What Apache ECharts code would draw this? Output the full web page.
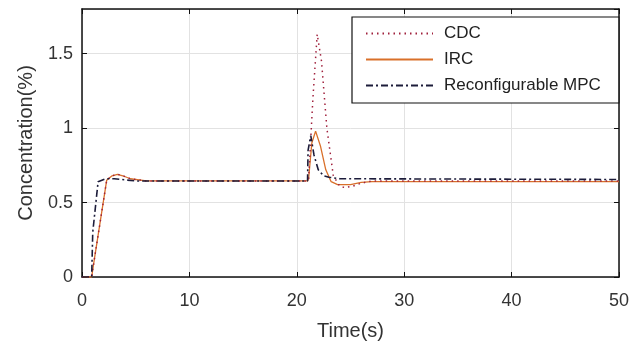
<!DOCTYPE html>
<html>
<head>
<meta charset="utf-8">
<script src="https://cdn.jsdelivr.net/npm/echarts@6/dist/echarts.min.js"></script>
<style>html,body{margin:0;padding:0;background:#fff}#c{width:632px;height:349px}</style>
</head>
<body>
<div id="c"></div>
<script>
// Data
var cdcT = [0, 0.9, 1.0, 2.3, 2.8, 3.3, 3.8, 4.5, 6, 21.0, 21.1, 21.5, 21.9, 22.3, 22.8, 23.4, 24.0, 24.5, 25.2, 26, 27, 50];
var cdcV = [0, 0, 0.05, 0.65, 0.68, 0.69, 0.68, 0.66, 0.645, 0.645, 0.66, 1.2, 1.63, 1.45, 1.0, 0.68, 0.61, 0.6, 0.61, 0.63, 0.645, 0.645];
var ircT = [0, 0.9, 1.0, 2.3, 2.8, 3.3, 3.8, 4.5, 6, 21.0, 21.1, 21.4, 21.75, 22.2, 22.7, 23.2, 23.8, 25, 26, 27, 50];
var ircV = [0, 0, 0.05, 0.65, 0.68, 0.69, 0.68, 0.66, 0.645, 0.645, 0.66, 0.9, 0.98, 0.88, 0.72, 0.64, 0.62, 0.62, 0.635, 0.64, 0.64];
var mpcT = [0, 0.9, 1.0, 1.5, 2.2, 3, 5, 21.0, 21.05, 21.3, 21.6, 22, 22.5, 23, 24, 50];
var mpcV = [0, 0, 0.3, 0.64, 0.66, 0.66, 0.645, 0.645, 0.85, 0.95, 0.82, 0.72, 0.68, 0.67, 0.66, 0.655];
var seriesNames = ['CDC', 'IRC', 'Reconfigurable MPC'];
var xTicks = [0, 10, 20, 30, 40, 50];
var yTicks = [0, 0.5, 1, 1.5];

function pairs(t, v) { return t.map(function (x, i) { return [x, v[i]]; }); }

var chart = echarts.init(document.getElementById('c'));
var font = 'Liberation Sans, Arial, sans-serif';
var baseAxis = {
  min: 0,
  axisLine: { show: true, onZero: false, lineStyle: { color: '#111', width: 1.5 } },
  axisTick: { show: true, inside: true, length: 5, lineStyle: { color: '#111' } },
  splitLine: { show: false },
  axisLabel: { show: false }
};
chart.setOption({
  animation: false,
  backgroundColor: '#fff',
  grid: { left: 82, right: 10, top: 9, bottom: 72 },
  legend: {
    orient: 'vertical',
    left: 352, top: 17,
    padding: [8, 18, 9, 13],
    itemGap: 9,
    itemWidth: 67, itemHeight: 17,
    backgroundColor: '#fff',
    borderColor: '#111', borderWidth: 1.2,
    itemStyle: { opacity: 0 },
    textStyle: { fontFamily: font, fontSize: 17, color: '#222', padding: [0, 0, 0, 6] },
    data: seriesNames
  },
  xAxis: [
    Object.assign({}, baseAxis, {
      type: 'value', max: 50, interval: 10, position: 'bottom',
      name: 'Time(s)', nameLocation: 'middle', nameGap: 44,
      nameTextStyle: { fontFamily: font, fontSize: 20, color: '#333' },
      splitLine: { show: true, lineStyle: { color: '#e2e2e2' } },
      axisLabel: { show: true, margin: 15, fontFamily: font, fontSize: 18, color: '#333' }
    }),
    Object.assign({}, baseAxis, { type: 'value', max: 50, interval: 10, position: 'top' })
  ],
  yAxis: [
    Object.assign({}, baseAxis, {
      type: 'value', max: 1.8, interval: 0.5, position: 'left',
      name: 'Concentration(%)', nameLocation: 'middle', nameGap: 46, nameRotate: 90,
      nameTextStyle: { fontFamily: font, fontSize: 20, color: '#333' },
      splitLine: { show: true, lineStyle: { color: '#e2e2e2' } },
      axisLabel: { show: true, margin: 9, fontFamily: font, fontSize: 18, color: '#333', showMaxLabel: false }
    }),
    Object.assign({}, baseAxis, { type: 'value', max: 1.8, interval: 0.5, position: 'right' })
  ],
  series: [
    { name: seriesNames[0], type: 'line', symbol: 'none', z: 3,
      data: pairs(cdcT, cdcV),
      lineStyle: { color: '#a0203c', width: 1.5, type: [1.5, 4] },
      itemStyle: { color: '#a0203c' } },
    { name: seriesNames[1], type: 'line', symbol: 'none', z: 2,
      data: pairs(ircT, ircV),
      lineStyle: { color: '#d9702a', width: 1.3 },
      itemStyle: { color: '#d9702a' } },
    { name: seriesNames[2], type: 'line', symbol: 'none', z: 4,
      data: pairs(mpcT, mpcV),
      lineStyle: { color: '#1c1c3a', width: 1.6, type: [7, 3, 2, 3] },
      itemStyle: { color: '#1c1c3a' } }
  ]
});
</script>
</body>
</html>
